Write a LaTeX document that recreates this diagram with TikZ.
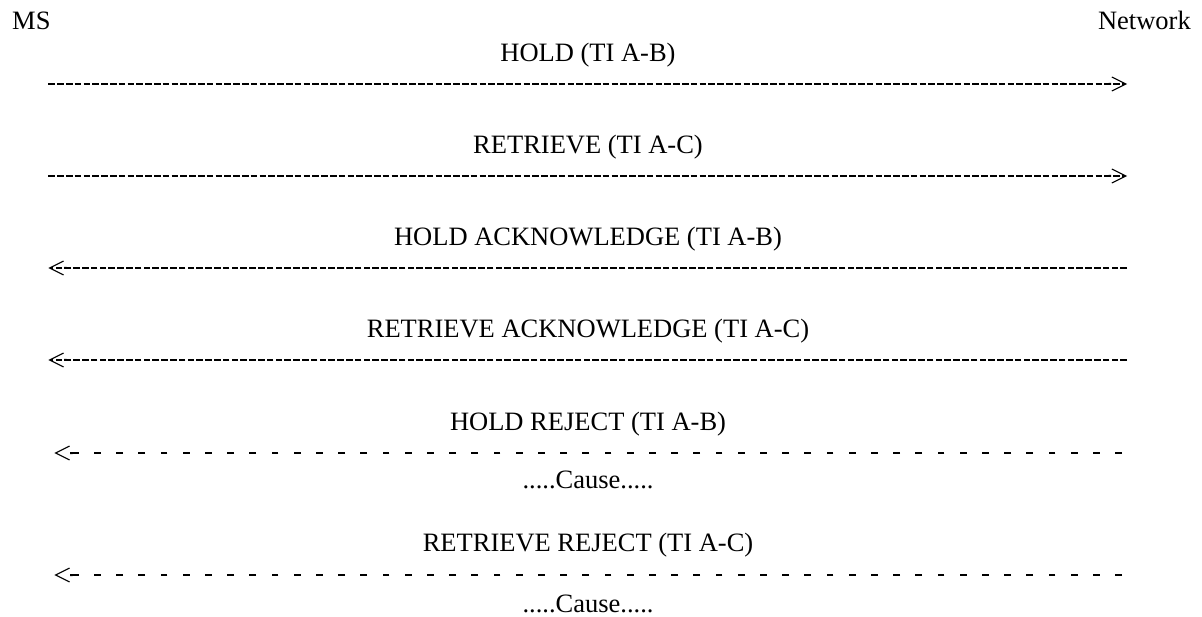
\documentclass[tikz,border=0pt]{standalone}
\usepackage{fontspec}
\setmainfont{Liberation Serif}
\usetikzlibrary{arrows.meta}
\begin{document}
\begin{tikzpicture}[x=1pt,y=-1pt,
  font=\fontsize{26.5}{31}\selectfont,
  lbl/.style={anchor=base, inner sep=0pt},
  dense/.style={line width=2pt, dash pattern=on 6.6pt off 2.2pt},
  sparse/.style={line width=2pt, dash pattern=on 6.8pt off 15.4pt},
  barb/.style={-{Butt Cap[] Straight Barb[length=14pt,width=14pt,line width=1.1pt]}}
]
\useasboundingbox (0,0) rectangle (1202,617);

\node[lbl, anchor=base west] (ms) at (12,30) {MS};
\node[lbl, anchor=base east] (net) at (1191,30) {Network};

% message 1
\node[lbl] (m1) at (588,61.5) {HOLD (TI A-B)};
\coordinate (m1s) at (48.3,84);
\coordinate (m1e) at (1127,84);
\draw[dense,barb] (m1s) -- (m1e);

% message 2
\node[lbl] (m2) at (588,153.5) {RETRIEVE (TI A-C)};
\coordinate (m2s) at (48.3,176);
\coordinate (m2e) at (1127,176);
\draw[dense,barb] (m2s) -- (m2e);

% message 3
\node[lbl] (m3) at (588,245.5) {HOLD ACKNOWLEDGE (TI A-B)};
\coordinate (m3s) at (1127,268);
\coordinate (m3e) at (48.3,268);
\draw[dense,barb] (m3s) -- (m3e);

% message 4
\node[lbl] (m4) at (588,338) {RETRIEVE ACKNOWLEDGE (TI A-C)};
\coordinate (m4s) at (1127,360);
\coordinate (m4e) at (48.3,360);
\draw[dense,barb] (m4s) -- (m4e);

% message 5
\node[lbl] (m5) at (588,430.3) {HOLD REJECT (TI A-B)};
\coordinate (m5s) at (1122,453);
\coordinate (m5e) at (54.3,453);
\draw[sparse,barb] (m5s) -- (m5e);
\node[lbl] (c5) at (588,488.5) {.....Cause.....};

% message 6
\node[lbl] (m6) at (588,551.5) {RETRIEVE REJECT (TI A-C)};
\coordinate (m6s) at (1122,575);
\coordinate (m6e) at (54.3,575);
\draw[sparse,barb] (m6s) -- (m6e);
\node[lbl] (c6) at (588,612) {.....Cause.....};
\end{tikzpicture}
\end{document}
